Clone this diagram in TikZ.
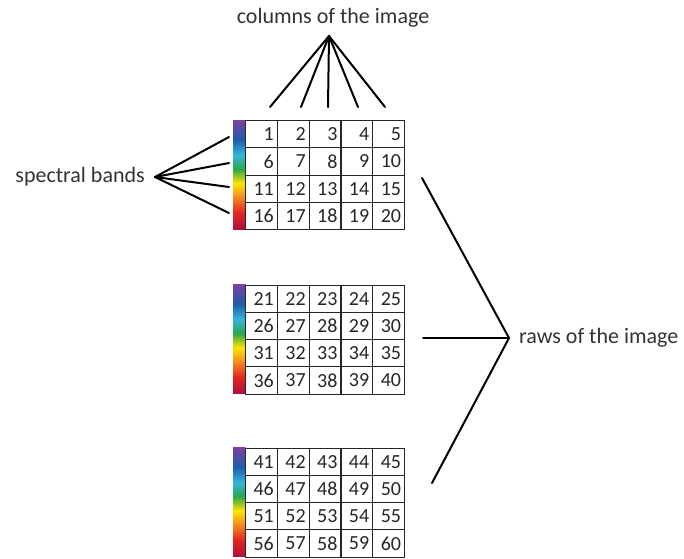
\documentclass[tikz,border=0pt]{standalone}
\usepackage{fontspec}
\setmainfont{Carlito}
\usetikzlibrary{positioning,calc}
\definecolor{bandcrimson}{HTML}{B0103A}
\definecolor{bandred}{HTML}{E52421}
\definecolor{bandorange}{HTML}{F39020}
\definecolor{bandyellow}{HTML}{FFE500}
\definecolor{bandgreen}{HTML}{2AA84A}
\definecolor{bandcyan}{HTML}{35B5D8}
\definecolor{bandblue}{HTML}{1D5DAE}
\definecolor{bandpurple}{HTML}{7D3F9E}
\pgfdeclareverticalshading{bandbar}{100bp}{
  color(0bp)=(bandcrimson); color(25bp)=(bandcrimson); color(32.5bp)=(bandred);
  color(40bp)=(bandorange); color(46bp)=(bandyellow); color(52.5bp)=(bandgreen);
  color(59bp)=(bandcyan); color(66bp)=(bandblue); color(75bp)=(bandpurple);
  color(100bp)=(bandpurple)}

\begin{document}
\begin{tikzpicture}[
  x=1pt, y=-1pt,
  cell/.style={draw=black!85, line width=1.1pt, anchor=north west,
    minimum height=27.25pt, text width=24.8pt, inner xsep=3.5pt,
    align=right, font=\fontsize{20}{20}\selectfont, text=black!85},
  lbl/.style={font=\fontsize{22}{22}\selectfont, text=black!80, inner sep=0pt},
  wire/.style={line width=2pt, line cap=round}
]
\useasboundingbox (0,0) rectangle (684,558);

% the three 4x5 blocks with their band bar
\foreach \g/\top in {0/120,1/284.5,2/447.5}{
  \shade[shading=bandbar] (233,\top) rectangle (245.5,\top+109);
  \foreach \r in {0,...,3}
    \foreach \c in {0,...,4}{
      \pgfmathtruncatemacro\n{20*\g+5*\r+\c+1}
      \node[cell] (g\g-\r-\c) at (245+31.8*\c,\top+27.25*\r) {\n};
    }
}

% columns
\node[lbl] (cols) at (333,18) {columns of the image};
\coordinate (colapex) at (329,36);
\foreach \x [count=\i] in {270,301,328,358,385}{
  \coordinate (colend\i) at (\x,107);
  \draw[wire] (colapex) -- (colend\i);
}

% spectral bands
\node[lbl, anchor=east] (bands) at (145,177) {spectral bands};
\coordinate (bandapex) at (155,177);
\foreach \y [count=\i] in {137,163,187,213}{
  \coordinate (bandend\i) at (229,\y);
  \draw[wire] (bandapex) -- (bandend\i);
}

% raws
\node[lbl, anchor=west] (raws) at (519,338) {raws of the image};
\coordinate (rawapex) at (509,338);
\foreach \x/\y [count=\i] in {422/178,423/338,432/483}{
  \coordinate (rawend\i) at (\x,\y);
  \draw[wire] (rawapex) -- (rawend\i);
}
\end{tikzpicture}
\end{document}
